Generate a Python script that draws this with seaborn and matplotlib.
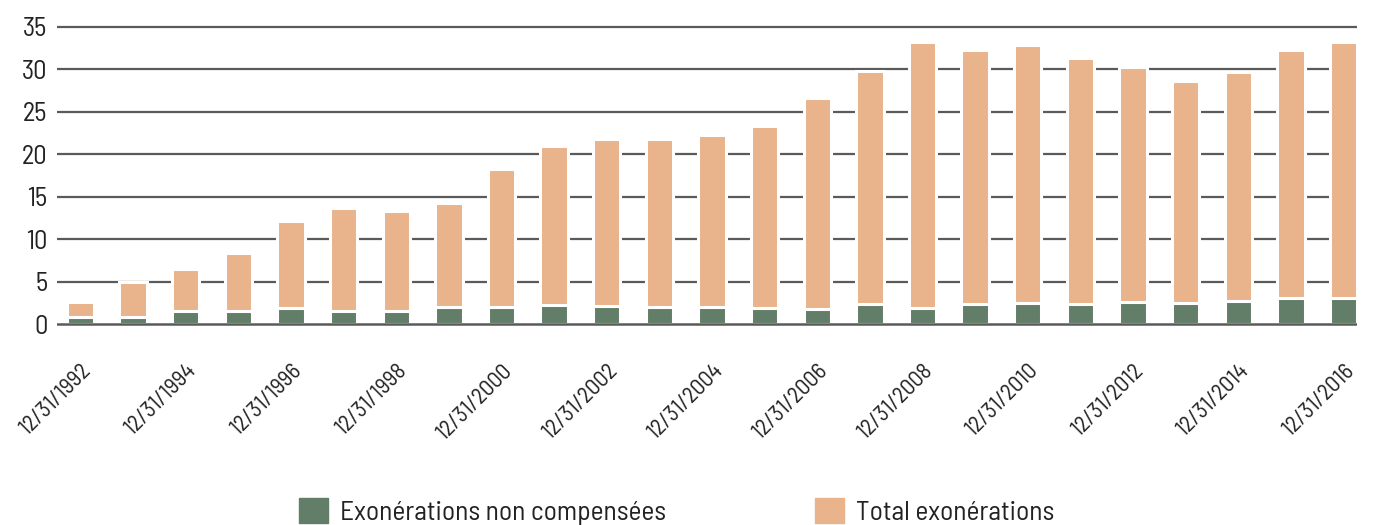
import matplotlib
matplotlib.use("Agg")
import matplotlib.pyplot as plt
import matplotlib.transforms as mtransforms
from matplotlib import font_manager
import seaborn as sns
import pandas as pd

# data (billions)
years = list(range(1992, 2017))
total_exo = [2.6, 4.9, 6.5, 8.4, 12.1, 13.7, 13.3, 14.2, 18.2, 20.9, 21.8, 21.8, 22.3,
             23.3, 26.6, 29.8, 33.2, 32.3, 32.8, 31.3, 30.3, 28.6, 29.7, 32.3, 33.2]
non_compensees = [0.85, 0.8, 1.55, 1.5, 1.9, 1.55, 1.55, 2.05, 2.05, 2.2, 2.1, 2.0, 2.0,
                  1.85, 1.8, 2.3, 1.9, 2.35, 2.5, 2.35, 2.6, 2.45, 2.65, 3.1, 3.05]
date_labels = [f"12/31/{y}" for y in years]
legend_labels = ["Exonérations non compensées", "Total exonérations"]

GREEN = "#637e68"
ORANGE = "#e9b38c"
GRID = "#5a5a5a"
TEXT = "#222222"

df = pd.DataFrame({"date": date_labels, "total": total_exo, "nc": non_compensees})

sns.set_theme(style="white")

# DIN-like condensed face if installed
names = {f.name for f in font_manager.fontManager.ttflist}
family = ["DejaVu Sans"]
for cand in ["Barlow Semi Condensed", "Roboto Condensed", "Liberation Sans Narrow"]:
    if cand in names:
        family = [cand, "DejaVu Sans"]
        break
plt.rcParams["font.family"] = family

fig = plt.figure(figsize=(13.75, 5.25), dpi=100)
ax = fig.add_axes([57 / 1375, 1 - 325.7 / 525, 1300 / 1375, 300.7 / 525])

sns.barplot(data=df, x="date", y="total", color=ORANGE, saturation=1, width=0.52,
            edgecolor="white", linewidth=2.2, ax=ax, zorder=2)
sns.barplot(data=df, x="date", y="nc", color=GREEN, saturation=1, width=0.52,
            edgecolor="white", linewidth=2.2, ax=ax, zorder=3)

ax.set_xlim(-0.447, 24.257)
ax.set_ylim(-0.2, 35.2)
ax.set_yticks(range(0, 36, 5))
for v in range(5, 36, 5):
    ax.axhline(v, color=GRID, linewidth=1.6, zorder=1)
ax.axhline(0, color=GRID, linewidth=1.8, zorder=4)

ax.set_xticks(range(0, 25, 2))
ax.set_xticklabels(date_labels[::2], rotation=45, ha="right", va="top",
                   rotation_mode="anchor", fontsize=16.5, color=TEXT)
shift = mtransforms.ScaledTranslation(-10 / 100, 0, fig.dpi_scale_trans)
for lab in ax.get_xticklabels():
    lab.set_transform(lab.get_transform() + shift)
ax.tick_params(axis="x", length=0, pad=25)
ax.tick_params(axis="y", length=0, pad=7, labelsize=19, labelcolor=TEXT)
ax.set_xlabel("")
ax.set_ylabel("")
sns.despine(ax=ax, left=True, bottom=True)

# two legend entries placed separately, as in the reference
leg_kw = dict(loc="lower left", frameon=False, fontsize=19.8, handlelength=1.05,
              handleheight=1.05, handletextpad=0.45, borderpad=0, borderaxespad=0,
              labelcolor=TEXT)
fig.legend([plt.Rectangle((0, 0), 1, 1, color=GREEN)], legend_labels[:1],
           bbox_to_anchor=(299 / 1375, 0.0), **leg_kw)
fig.legend([plt.Rectangle((0, 0), 1, 1, color=ORANGE)], legend_labels[1:],
           bbox_to_anchor=(815 / 1375, 0.0), **leg_kw)

fig.savefig("out.png", dpi=100)
